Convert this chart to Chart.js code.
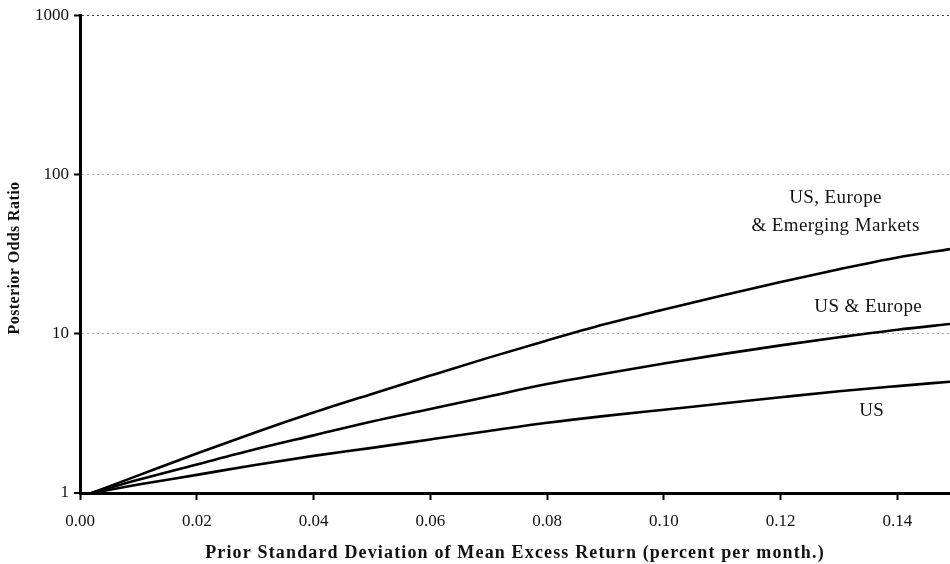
<!DOCTYPE html>
<html>
<head>
<meta charset="utf-8">
<script src="https://cdn.jsdelivr.net/npm/chart.js@4.4.0/dist/chart.umd.min.js"></script>
<style>
  html, body { margin: 0; padding: 0; background: #fff; }
  #wrap { width: 950px; height: 564px; position: relative; }
</style>
</head>
<body>
<div id="wrap"><canvas id="c" width="950" height="564"></canvas></div>
<script>
// ---- data ----
const priorSD    = [0.002, 0.01, 0.02, 0.03, 0.04, 0.05, 0.06, 0.07, 0.08, 0.09, 0.10, 0.11, 0.12, 0.13, 0.14, 0.149];
const usEuropeEM = [1, 1.29, 1.77, 2.40, 3.20, 4.19, 5.46, 7.08, 9.08, 11.5, 14.2, 17.4, 21.1, 25.4, 30.1, 34.0];
const usEurope   = [1, 1.21, 1.51, 1.88, 2.30, 2.81, 3.37, 4.04, 4.83, 5.62, 6.50, 7.45, 8.45, 9.50, 10.6, 11.5];
const usOnly     = [1, 1.13, 1.30, 1.50, 1.71, 1.92, 2.17, 2.45, 2.76, 3.05, 3.33, 3.65, 3.99, 4.35, 4.69, 5.0];
const xTicks = [0, 0.02, 0.04, 0.06, 0.08, 0.10, 0.12, 0.14];
const yTicks = [1, 10, 100, 1000];
const seriesNames = ["US, Europe\n& Emerging Markets", "US & Europe", "US"];
const xTitle = 'Prior Standard Deviation of Mean Excess Return (percent per month.)';
const yTitle = 'Posterior Odds Ratio';

const toPts = arr => priorSD.map((x, i) => ({x: x, y: arr[i]}));

// curve labels (anchored in data coordinates)
const curveLabels = [
  {text: seriesNames[0], x: 0.1294, y: 58},
  {text: seriesNames[1], x: 0.1350, y: 14.7},
  {text: seriesNames[2], x: 0.1356, y: 3.27}
];

const SERIF = '"Liberation Serif", "Times New Roman", serif';

const textPlugin = {
  id: 'textPlugin',
  afterDraw(chart) {
    const ctx = chart.ctx;
    const xs = chart.scales.x, ys = chart.scales.y;
    const area = chart.chartArea;
    ctx.save();
    ctx.fillStyle = '#111';
    ctx.textAlign = 'center';
    ctx.textBaseline = 'middle';
    // curve labels
    ctx.font = '19px ' + SERIF;
    ctx.letterSpacing = '0.4px';
    curveLabels.forEach(l => {
      const lines = l.text.split('\n');
      const px = xs.getPixelForValue(l.x);
      const py = ys.getPixelForValue(l.y);
      const lh = 28;
      lines.forEach((ln, i) => {
        ctx.fillText(ln, px, py + (i - (lines.length - 1) / 2) * lh);
      });
    });
    // axis titles
    ctx.font = 'bold 18px ' + SERIF;
    ctx.letterSpacing = '1.15px';
    ctx.fillText(xTitle, (area.left + area.right) / 2, 553);
    ctx.save();
    ctx.translate(15, 258);
    ctx.rotate(-Math.PI / 2);
    ctx.font = 'bold 16px ' + SERIF;
    ctx.letterSpacing = '0.4px';
    ctx.fillText(yTitle, 0, 0);
    ctx.restore();
    ctx.restore();
  }
};

const lineStyle = {
  borderColor: '#000',
  borderWidth: 2.6,
  pointRadius: 0,
  fill: false,
  cubicInterpolationMode: 'monotone'
};

new Chart(document.getElementById('c'), {
  type: 'line',
  data: {
    datasets: [
      Object.assign({label: seriesNames[0], data: toPts(usEuropeEM)}, lineStyle),
      Object.assign({label: seriesNames[1], data: toPts(usEurope)}, lineStyle),
      Object.assign({label: seriesNames[2], data: toPts(usOnly)}, lineStyle)
    ]
  },
  options: {
    responsive: false,
    animation: false,
    devicePixelRatio: 1,
    layout: { padding: { top: 15, right: 0, left: 0, bottom: 0 } },
    plugins: { legend: { display: false }, tooltip: { enabled: false } },
    scales: {
      x: {
        type: 'linear',
        min: 0,
        max: 0.149,
        afterFit: s => { s.height = 71; },
        afterBuildTicks: s => { s.ticks = xTicks.map(v => ({value: v})); },
        border: { color: '#000', width: 3 },
        grid: {
          drawOnChartArea: false,
          drawTicks: true,
          tickLength: 7,
          tickColor: '#000',
          tickWidth: 2
        },
        ticks: {
          padding: 11,
          color: '#111',
          font: { family: SERIF, size: 17 },
          callback: v => v.toFixed(2),
          maxRotation: 0
        },
        title: { display: false }
      },
      y: {
        type: 'logarithmic',
        min: 1,
        max: 1000,
        afterFit: s => { s.width = 80; },
        afterBuildTicks: s => { s.ticks = yTicks.map(v => ({value: v})); },
        border: { color: '#000', width: 3, dash: [2, 3] },
        grid: {
          color: ctx => ctx.tick && ctx.tick.value === 1000 ? '#444' : '#aaa',
          lineWidth: ctx => ctx.tick && ctx.tick.value === 1 ? 0 : 1,
          tickColor: '#000',
          tickWidth: 2,
          tickLength: 6,
          tickBorderDash: []
        },
        ticks: {
          padding: 5,
          color: '#111',
          font: { family: SERIF, size: 17 },
          callback: v => String(v)
        },
        title: { display: false }
      }
    }
  },
  plugins: [textPlugin]
});
</script>
</body>
</html>
